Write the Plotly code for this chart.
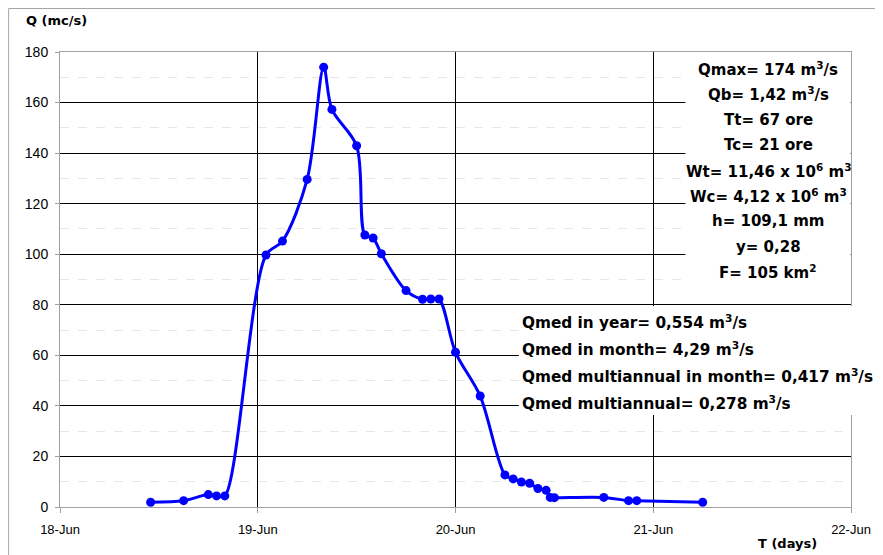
import plotly.graph_objects as go

# ---- data ----
times = [
    "2000-06-18 11:00", "2000-06-18 15:00", "2000-06-18 18:00", "2000-06-18 19:00", "2000-06-18 20:00",
    "2000-06-19 01:00", "2000-06-19 03:00", "2000-06-19 06:00", "2000-06-19 08:00", "2000-06-19 09:00",
    "2000-06-19 12:00", "2000-06-19 13:00", "2000-06-19 14:00", "2000-06-19 15:00", "2000-06-19 18:00",
    "2000-06-19 20:00", "2000-06-19 21:00", "2000-06-19 22:00",
    "2000-06-20 00:00", "2000-06-20 03:00", "2000-06-20 06:00", "2000-06-20 07:00", "2000-06-20 08:00",
    "2000-06-20 09:00", "2000-06-20 10:00", "2000-06-20 11:00", "2000-06-20 11:30", "2000-06-20 12:00",
    "2000-06-20 18:00", "2000-06-20 21:00", "2000-06-20 22:00", "2000-06-21 06:00",
]
discharge = [
    1.9, 2.5, 4.9, 4.4, 4.4,
    99.7, 105.2, 129.6, 174.0, 157.3,
    142.9, 107.6, 106.4, 100.2, 85.6,
    82.2, 82.3, 82.3,
    61.2, 43.9, 12.7, 11.1, 9.9,
    9.4, 7.3, 6.6, 3.8, 3.7,
    3.8, 2.5, 2.5, 1.9,
]
x_range = ["2000-06-18", "2000-06-22"]
y_ticks = [0, 20, 40, 60, 80, 100, 120, 140, 160, 180]

stats_right = [
    "Qmax= 174 m<sup>3</sup>/s",
    "Qb= 1,42 m<sup>3</sup>/s",
    "Tt= 67 ore",
    "Tc= 21 ore",
    "Wt= 11,46 x 10<sup>6</sup> m<sup>3</sup>",
    "Wc= 4,12 x 10<sup>6</sup> m<sup>3</sup>",
    "h= 109,1 mm",
    "y= 0,28",
    "F= 105 km<sup>2</sup>",
]
stats_qmed = [
    "Qmed in year= 0,554 m<sup>3</sup>/s",
    "Qmed in month= 4,29 m<sup>3</sup>/s",
    "Qmed multiannual in month= 0,417 m<sup>3</sup>/s",
    "Qmed multiannual= 0,278 m<sup>3</sup>/s",
]

FONT = "Liberation Sans, Arial, sans-serif"
BFONT = "DejaVu Sans, Verdana, sans-serif"
OFF = 8  # page offset of the figure in the browser
W, H = 875, 547
ML, MR, MT, MB = 52, 30, 44, 48
PW = W - ML - MR
PH = H - MT - MB


def px_x(p):
    return (p - OFF - ML) / PW


def px_y(p):
    return (H - MB - (p - OFF)) / PH


fig = go.Figure()
fig.add_trace(go.Scatter(
    x=times, y=discharge, mode="lines+markers",
    line=dict(color="#0000ff", width=3, shape="spline", smoothing=0.9),
    marker=dict(color="#0000ff", size=9),
    showlegend=False, cliponaxis=False,
))

shapes = [
    # outer chart border
    dict(type="rect", xref="paper", yref="paper", x0=px_x(8.5), x1=px_x(900), y0=px_y(8.5), y1=px_y(600),
         line=dict(color="#a6a6a6", width=1), fillcolor="rgba(0,0,0,0)", layer="below"),
    # white boxes behind text
    dict(type="rect", xref="paper", yref="paper", x0=px_x(687), x1=px_x(852.6), y0=px_y(53.2), y1=px_y(293),
         line=dict(width=0), fillcolor="white", layer="above"),
    dict(type="rect", xref="paper", yref="paper", x0=px_x(520), x1=px_x(857), y0=px_y(306), y1=px_y(415),
         line=dict(width=0), fillcolor="white", layer="above"),
]

annotations = []
for i, t in enumerate(stats_right):
    annotations.append(dict(
        text="<b>" + t + "</b>", xref="paper", yref="paper", x=px_x(770), y=px_y(69 + 25.4 * i),
        xanchor="center", yanchor="middle", showarrow=False,
        font=dict(family=BFONT, size=15, color="black"),
    ))
for i, t in enumerate(stats_qmed):
    annotations.append(dict(
        text="<b>" + t + "</b>", xref="paper", yref="paper", x=px_x(521), y=px_y(322 + 27 * i),
        xanchor="left", yanchor="middle", showarrow=False,
        font=dict(family=BFONT, size=15.3, color="black"),
    ))
annotations.append(dict(text="<b>Q (mc/s)</b>", xref="paper", yref="paper", x=px_x(24), y=px_y(20),
                        xanchor="left", yanchor="middle", showarrow=False,
                        font=dict(family=BFONT, size=13, color="black")))
annotations.append(dict(text="<b>T (days)</b>", xref="paper", yref="paper", x=px_x(789), y=px_y(543),
                        xanchor="center", yanchor="middle", showarrow=False,
                        font=dict(family=BFONT, size=13, color="black")))

fig.update_layout(
    width=W, height=H,
    margin=dict(l=ML, r=MR, t=MT, b=MB),
    paper_bgcolor="white", plot_bgcolor="white",
    font=dict(family=FONT, size=13, color="black"),
    shapes=shapes, annotations=annotations,
    xaxis=dict(
        type="date", range=x_range, dtick=86400000, tickformat="%d-%b",
        showgrid=True, gridcolor="black", gridwidth=1,
        showline=True, linecolor="#a0a0a0", linewidth=1, mirror=True,
        ticks="outside", ticklen=5, tickcolor="#a0a0a0", ticklabelstandoff=5,
        tickfont=dict(family=FONT, size=13, color="black"),
        zeroline=False,
    ),
    yaxis=dict(
        range=[0, 180], tickvals=y_ticks,
        showgrid=True, gridcolor="black", gridwidth=1,
        minor=dict(dtick=10, showgrid=True, gridcolor="#e6e6e6", griddash="dash", gridwidth=1),
        showline=True, linecolor="#a0a0a0", linewidth=1, mirror=True,
        ticks="outside", ticklen=4, tickcolor="#a0a0a0", ticklabelstandoff=4,
        tickfont=dict(family=FONT, size=14, color="black"),
        zeroline=False,
    ),
)

fig.write_html("out.html")
